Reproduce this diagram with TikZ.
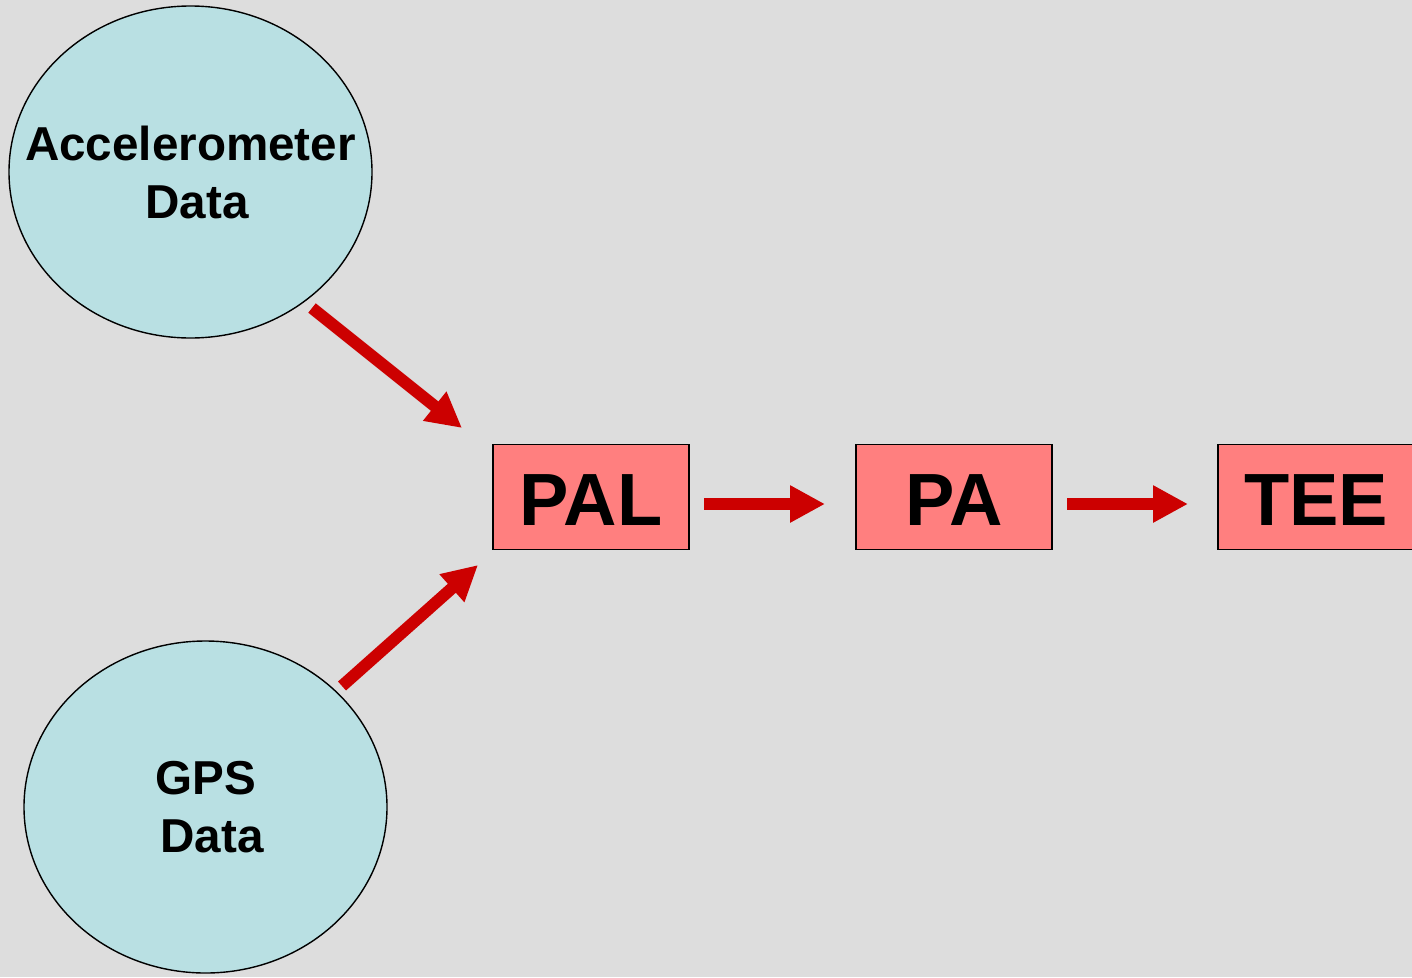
\documentclass[tikz,border=0pt]{standalone}
\usepackage{fontspec}
\setmainfont{Liberation Sans}
\usetikzlibrary{arrows.meta,shapes.geometric}
\definecolor{bggray}{HTML}{DDDDDD}
\definecolor{datafill}{HTML}{B9E0E3}
\definecolor{boxfill}{HTML}{FF7F7F}
\definecolor{arrowred}{HTML}{CC0000}
\begin{document}
\begin{tikzpicture}[x=1pt,y=-1pt,
  source/.style={draw=black,line width=1.4pt,fill=datafill,ellipse,
    minimum width=363pt,minimum height=332pt,inner sep=0pt},
  srclabel/.style={align=center,font=\bfseries\fontsize{47.6}{58}\selectfont,inner sep=0pt},
  measure/.style={draw=black,line width=1.4pt,fill=boxfill,rectangle,
    minimum width=196pt,minimum height=105pt,inner sep=0pt,
    text height=57pt,text depth=0pt,
    font=\bfseries\fontsize{74}{80}\selectfont},
  flow/.style={draw=arrowred,line width=12pt,
    -{Triangle[length=35pt,width=35pt]}}]
  \useasboundingbox[fill=bggray] (0,0) rectangle (1412,977);

  % data sources
  \node[source] (acc) at (190.5,172) {};
  \node[srclabel] (acctxt) at (acc.center) {Accelerometer\\\hspace*{13.2pt}Data};
  \node[source] (gps) at (205.5,807) {};
  \node[srclabel] (gpstxt) at (gps.center) {GPS\\\hspace*{13.2pt}Data};

  % derived measures
  \node[measure] (pal) at (591,497) {PAL};
  \node[measure] (pa)  at (954,497) {PA};
  \node[measure] (tee) at (1316,497) {TEE};

  % arrow end points
  \coordinate (acctail) at (312,308);
  \coordinate (acctip)  at (462,428);
  \coordinate (gpstail) at (342,686);
  \coordinate (gpstip)  at (478,565);
  \coordinate (paltail) at (704,504);
  \coordinate (paltip)  at (825,504);
  \coordinate (patail)  at (1067,504);
  \coordinate (patip)   at (1188,504);

  \draw[flow] (acctail) -- (acctip);
  \draw[flow] (gpstail) -- (gpstip);
  \draw[flow] (paltail) -- (paltip);
  \draw[flow] (patail) -- (patip);
\end{tikzpicture}
\end{document}
